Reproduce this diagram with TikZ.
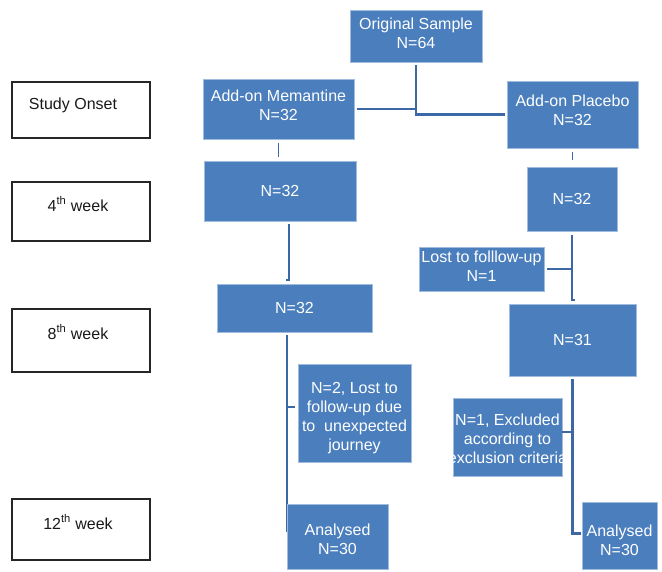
\documentclass[tikz,border=0pt]{standalone}
\usepackage{fontspec}
\setmainfont{Liberation Sans}
\usetikzlibrary{calc}
\definecolor{boxblue}{RGB}{74,126,189}
\definecolor{boxedge}{RGB}{160,188,222}
\definecolor{linecol}{RGB}{60,104,166}
\begin{document}
\begin{tikzpicture}[x=1pt,y=-1pt,
  bx/.style={draw=boxedge, line width=0.6pt, fill=boxblue, text=white, inner sep=0pt, align=center, font=\fontsize{16}{19}\selectfont},
  bxt/.style={text=white, inner sep=0pt, align=center, font=\fontsize{16}{19}\selectfont},
  lb/.style={draw=black!85, line width=1.8pt, inner sep=0pt},
  lt/.style={font=\fontsize{16}{19}\selectfont, inner sep=0pt, text=black!90},
  cn/.style={draw=linecol, line width=2.3pt}]
\useasboundingbox (0,0) rectangle (662,571);

% time-point labels
\node[lb, minimum width=138pt, minimum height=56pt] (onset) at (81,110) {};
\node[lt] (onsetT) at (73,105) {Study Onset};
\node[lb, minimum width=138pt, minimum height=59pt] (l4) at (81,211.5) {};
\node[lt] (l4T) at (78,204) {4\textsuperscript{th} week};
\node[lb, minimum width=138pt, minimum height=63pt] (l8) at (81,340.5) {};
\node[lt] (l8T) at (78,332) {8\textsuperscript{th} week};
\node[lb, minimum width=138pt, minimum height=61pt] (l12) at (81,529.5) {};
\node[lt] (l12T) at (78,522) {12\textsuperscript{th} week};

% flow boxes
\node[bx, minimum width=132pt, minimum height=52pt] (orig) at (416,36) {};
\node[bxt] (origT) at (416,33) {Original Sample\\N=64};
\node[bx, minimum width=151pt, minimum height=60pt] (mem) at (278.5,109) {};
\node[bxt] (memT) at (278.5,105) {Add-on Memantine\\N=32};
\node[bx, minimum width=131pt, minimum height=67pt] (plac) at (572.5,114.5) {};
\node[bxt] (placT) at (572.5,110.5) {Add-on Placebo\\N=32};
\node[bx, minimum width=152pt, minimum height=60pt] (w4L) at (280,191) {N=32};
\node[bx, minimum width=90pt, minimum height=64pt] (w4R) at (572,199) {N=32};
\node[bx, minimum width=125pt, minimum height=44pt] (lost) at (481.5,269) {};
\node[bxt] (lostT) at (481.5,266.5) {Lost to folllow-up\\N=1};
\node[bx, minimum width=155pt, minimum height=48pt] (w8L) at (294.5,308) {N=32};
\node[bx, minimum width=127pt, minimum height=72pt] (w8R) at (572.5,340) {N=31};
\node[bx, minimum width=113pt, minimum height=98pt] (los2) at (354.5,413) {};
\node[bxt] (los2T) at (354.5,418) {N=2, Lost to\\follow-up due\\to\ \ unexpected\\journey};
\node[bx, minimum width=109pt, minimum height=78pt] (excl) at (507.5,437) {};
\begin{scope}
  \clip (excl.south west) rectangle (excl.north east);
  \node[bxt] (exclT) at (507.5,439) {N=1, Excluded\\according to\\exclusion criteria};
\end{scope}

% connectors
\draw[cn, shorten <=3pt] (orig.south) -- (orig.south |- plac.west) -- ($(plac.west)+(-2,0)$);
\draw[cn, shorten <=3pt] (mem.east) -- (mem.east -| orig.south);
\draw[cn, line width=1.8pt, shorten <=4pt, shorten >=4pt] (mem.south) -- (mem.south |- w4L.north);
\draw[cn, line width=1.8pt, shorten <=4pt, shorten >=7pt] (plac.south) -- (plac.south |- w4R.north);
\draw[cn] ($(w4L.south)+(9,3)$) -- ($(w4L.south |- w8L.north)+(9,-4)$) -- ++(-3,0);
\draw[cn] ($(w4R.south)+(0,4)$) -- ($(w4R.south |- w8R.north)+(0,-4)$) -- ++(3,0);
\draw[cn] ($(lost.east)+(3,0)$) -- (lost.east -| w4R.south);
\draw[cn] ($(w8L.south -| los2.west)+(-11,3)$) -- ($(los2.west |- l12.center)+(-11,2)$);
\draw[cn] ($(los2.west)+(-11,-6)$) -- ($(los2.west)+(-3,-6)$);
\draw[cn] ($(w8R.south)+(0,3)$) -- ($(w8R.south |- l12.center)+(0,4)$) -- ($(w8R.south |- l12.center)+(8,4)$);
\draw[cn] ($(excl.east)+(0,-5)$) -- ($(excl.east -| w8R.south)+(0,-5)$);

\node[bx, minimum width=101pt, minimum height=65pt] (anL) at (337.5,536.5) {};
\node[bxt] (anLT) at (337.5,539) {Analysed\\N=30};
\node[bx, minimum width=75pt, minimum height=67pt] (anR) at (619.5,535.5) {};
\node[bxt] (anRT) at (619.5,540) {Analysed\\N=30};
\end{tikzpicture}
\end{document}
